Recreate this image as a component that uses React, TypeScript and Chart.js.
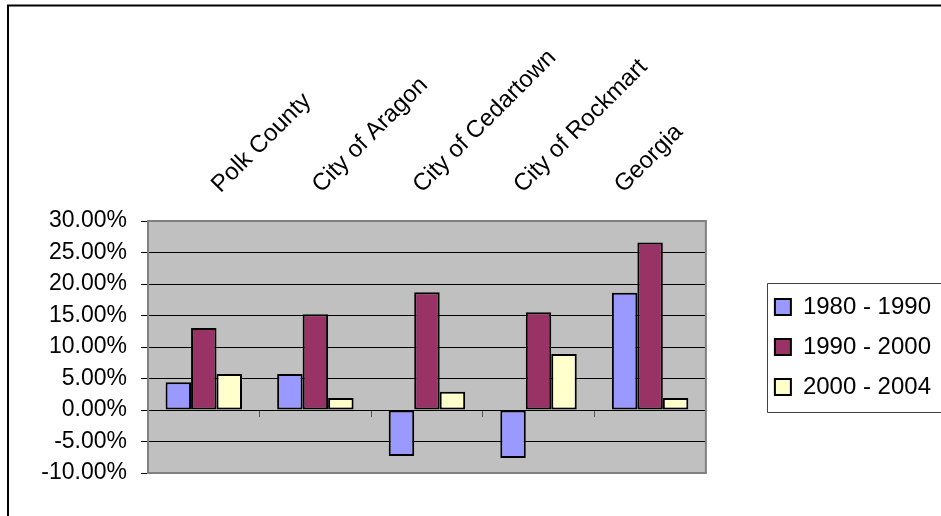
import React, { useEffect, useRef } from 'react';
import { Chart, registerables } from 'chart.js';

Chart.register(...registerables);

// Population change by area and period (percent)
const categories = ['Polk County', 'City of Aragon', 'City of Cedartown', 'City of Rockmart', 'Georgia'];
const seriesNames = ['1980 - 1990', '1990 - 2000', '2000 - 2004'];
const change1980s = [4.4, 5.7, -7.3, -7.6, 18.6];
const change1990s = [13.0, 15.2, 18.7, 15.5, 26.6];
const change2000s = [5.7, 1.9, 2.9, 8.9, 1.9];
const yTickValues = [-10, -5, 0, 5, 10, 15, 20, 25, 30];

const seriesColors = ['#9999ff', '#993366', '#ffffcc'];
const FONT = "'Liberation Sans', Arial, Helvetica, sans-serif";

const decorPlugin = {
  id: 'decor',
  beforeDraw(chart: any) {
    const { ctx, chartArea: a } = chart;
    ctx.save();
    ctx.fillStyle = '#ffffff';
    ctx.fillRect(0, 0, chart.width, chart.height);
    // plot area background
    ctx.fillStyle = '#c0c0c0';
    ctx.fillRect(a.left, a.top, a.right - a.left, a.bottom - a.top);
    // outer chart frame (top and left edges)
    ctx.strokeStyle = '#000000';
    ctx.lineWidth = 2;
    ctx.beginPath();
    ctx.moveTo(8, chart.height + 4);
    ctx.lineTo(8, 5.5);
    ctx.lineTo(chart.width + 4, 5.5);
    ctx.stroke();
    ctx.restore();
  },
  beforeDatasetsDraw(chart: any) {
    const { ctx, chartArea: a } = chart;
    ctx.save();
    ctx.strokeStyle = '#808080';
    ctx.lineWidth = 2;
    ctx.strokeRect(a.left, a.top, a.right - a.left, a.bottom - a.top);
    ctx.restore();
  },
  afterDraw(chart: any) {
    const lg = chart.legend;
    if (!lg || !lg.legendHitBoxes || !lg.legendHitBoxes.length) return;
    const boxes = lg.legendHitBoxes;
    const first = boxes[0];
    const last = boxes[boxes.length - 1];
    const { ctx } = chart;
    ctx.save();
    ctx.strokeStyle = '#404040';
    ctx.lineWidth = 1;
    const x = Math.round(first.left - 8) + 0.5;
    const y = Math.round(first.top - 12) + 0.5;
    const b = Math.round(last.top + last.height + 13) + 0.5;
    ctx.beginPath();
    ctx.moveTo(chart.width + 4, y);
    ctx.lineTo(x, y);
    ctx.lineTo(x, b);
    ctx.lineTo(chart.width + 4, b);
    ctx.stroke();
    ctx.restore();
  },
};

export default function App() {
  const canvasRef = useRef<HTMLCanvasElement | null>(null);

  useEffect(() => {
    if (!canvasRef.current) return;
    const seriesData = [change1980s, change1990s, change2000s];
    const chart = new Chart(canvasRef.current, {
      type: 'bar',
      data: {
        labels: categories,
        datasets: seriesNames.map((name, i) => ({
          label: name,
          data: seriesData[i],
          backgroundColor: seriesColors[i],
          borderColor: '#000000',
          borderWidth: 2,
          borderSkipped: false,
          categoryPercentage: 0.685,
          barPercentage: 1,
        })),
      },
      options: {
        responsive: false,
        animation: false,
        events: [],
        layout: { padding: { left: 0, right: 0, top: 0, bottom: 43 } },
        font: { family: FONT },
        plugins: {
          tooltip: { enabled: false },
          legend: {
            position: 'right',
            fullSize: false,
            align: 'center',
            maxWidth: 260,
            labels: {
              boxWidth: 16,
              boxHeight: 16,
              padding: 16,
              color: '#000000',
              font: { family: FONT, size: 24 },
            },
          },
        },
        scales: {
          y: {
            type: 'linear',
            position: 'left',
            min: -10,
            max: 30,
            afterBuildTicks: (s: any) => {
              s.ticks = yTickValues.map((v) => ({ value: v }));
            },
            afterFit: (s: any) => {
              s.width = 148;
            },
            ticks: {
              color: '#000000',
              padding: 14,
              font: { family: FONT, size: 23 },
              callback: (v: any) => Number(v).toFixed(2) + '%',
            },
            grid: {
              color: '#000000',
              lineWidth: 1,
              tickLength: 7,
              drawTicks: true,
            },
            border: { display: false },
          },
          x: {
            type: 'category',
            position: { y: 0 } as any,
            offset: true,
            ticks: { display: false },
            grid: {
              offset: true,
              drawOnChartArea: false,
              drawTicks: true,
              tickLength: 6,
              color: '#555555',
            },
            border: { display: true, color: '#000000', width: 1 },
          },
          xTop: {
            type: 'linear',
            position: 'top',
            offset: false,
            min: -0.875,
            max: 4.663,
            afterBuildTicks: (s: any) => {
              s.ticks = categories.map((_, i) => ({ value: i }));
            },
            afterFit: (s: any) => {
              s.height = 221;
            },
            ticks: {
              autoSkip: false,
              minRotation: 45,
              maxRotation: 45,
              padding: 22,
              color: '#000000',
              font: { family: FONT, size: 24 },
              callback: (v: any) => categories[Math.round(Number(v))] ?? '',
            },
            grid: { display: false, drawTicks: false, offset: false },
            border: { display: false },
          },
          gap: {
            type: 'linear',
            position: 'right',
            display: true,
            ticks: { display: false },
            grid: { display: false, drawTicks: false },
            border: { display: false },
            afterFit: (s: any) => {
              s.width = 53;
            },
          },
        },
      } as any,
      plugins: [decorPlugin],
    });
    return () => chart.destroy();
  }, []);

  return (
    <div style={{ position: 'fixed', left: 0, top: 0, width: 941, height: 516, background: '#ffffff' }}>
      <canvas ref={canvasRef} width={941} height={516} style={{ display: 'block' }} />
    </div>
  );
}
